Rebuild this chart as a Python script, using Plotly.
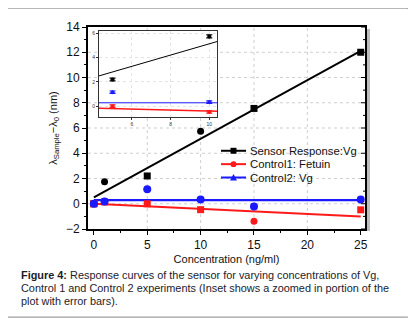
import plotly.graph_objects as go

# ---- data ----
conc = [0, 1, 5, 10, 15, 25]
sensor_vg = [0.0, 1.75, 2.2, 5.75, 7.55, 12.0]
control1_fetuin = [0.0, 0.15, 0.0, -0.47, -1.38, -0.48]
control2_vg = [0.0, 0.18, 1.15, 0.33, -0.22, 0.33]
sensor_err = [0.0, 0.1, 0.12, 0.12, 0.12, 0.12]
control1_err = [0.0, 0.08, 0.1, 0.1, 0.1, 0.1]
control2_err = [0.0, 0.08, 0.1, 0.1, 0.1, 0.1]

fit_x = [0, 25]
sensor_fit = [0.5, 12.1]
control1_fit = [0.0, -1.0]
control2_fit = [0.28, 0.28]

x_ticks = [0, 5, 10, 15, 20, 25]
y_ticks = [-2, 0, 2, 4, 6, 8, 10, 12, 14]
inset_x_ticks = [6, 8, 10]
inset_y_ticks = [0, 2, 4, 6]

series_names = ["Sensor Response:Vg", "Control1: Fetuin", "Control2: Vg"]
sensor_symbols = ["square", "circle", "square", "circle", "square", "square"]
control1_symbols = ["square", "square", "square", "square", "circle", "square"]

BLACK = "#000000"
RED = "#ff1a1a"
BLUE = "#1a1aff"

# page body has an 8px margin; the figure is sized/placed to compensate
OFF = 8
W, H = 416 - OFF, 327 - OFF
L, R, T, B = 88 - OFF, 51, 25 - OFF, 98
PW, PH = W - L - R, H - T - B


def px(xs):
    """screen x pixel -> paper coordinate"""
    return (xs - OFF - L) / PW


def py(ys):
    """screen y pixel -> paper coordinate"""
    return (H - B - (ys - OFF)) / PH


fig = go.Figure()

# main fits
fig.add_trace(go.Scatter(x=fit_x, y=sensor_fit, mode="lines",
                         line=dict(color=BLACK, width=2), showlegend=False))
fig.add_trace(go.Scatter(x=fit_x, y=control1_fit, mode="lines",
                         line=dict(color=RED, width=2), showlegend=False))
fig.add_trace(go.Scatter(x=fit_x, y=control2_fit, mode="lines",
                         line=dict(color=BLUE, width=2.2), showlegend=False))
# main data
fig.add_trace(go.Scatter(x=conc, y=sensor_vg, mode="markers",
                         marker=dict(color=BLACK, size=7, symbol=sensor_symbols),
                         showlegend=False))
fig.add_trace(go.Scatter(x=conc, y=control1_fetuin, mode="markers",
                         marker=dict(color=RED, size=7, symbol=control1_symbols),
                         showlegend=False))
fig.add_trace(go.Scatter(x=conc, y=control2_vg, mode="markers",
                         marker=dict(color=BLUE, size=8, symbol="circle"),
                         showlegend=False))

# inset
fig.add_trace(go.Scatter(x=fit_x, y=sensor_fit, mode="lines", xaxis="x2", yaxis="y2",
                         line=dict(color=BLACK, width=1), showlegend=False))
fig.add_trace(go.Scatter(x=fit_x, y=control1_fit, mode="lines", xaxis="x2", yaxis="y2",
                         line=dict(color=RED, width=1.5), showlegend=False))
fig.add_trace(go.Scatter(x=fit_x, y=control2_fit, mode="lines", xaxis="x2", yaxis="y2",
                         line=dict(color=BLUE, width=1), showlegend=False))
for vals, err, col in [(sensor_vg, sensor_err, BLACK), (control1_fetuin, control1_err, RED),
                       (control2_vg, control2_err, BLUE)]:
    fig.add_trace(go.Scatter(x=conc, y=vals, mode="markers", xaxis="x2", yaxis="y2",
                             marker=dict(color=col, size=4, symbol="circle"),
                             error_y=dict(type="data", array=err, color=col, thickness=1.2, width=3),
                             showlegend=False))

axis_common = dict(showline=True, linecolor=BLACK, ticks="outside", tickcolor=BLACK,
                   showgrid=False, zeroline=False,
                   tickfont=dict(size=12, color="#111", family="Liberation Sans"))

fig.update_layout(
    width=W, height=H,
    margin=dict(l=L, r=R, t=T, b=B),
    paper_bgcolor="white", plot_bgcolor="white",
    font=dict(family="Liberation Sans, Arial, sans-serif", color="#111"),
    showlegend=False,
    xaxis=dict(range=[-0.55, 25.4], tickvals=x_ticks, linewidth=1.5, ticklen=4,
               minor=dict(ticks="outside", ticklen=2, dtick=2.5, tickcolor=BLACK),
               title=dict(text="Concentration (ng/ml)", font=dict(size=11), standoff=4),
               mirror=True, **axis_common),
    yaxis=dict(range=[-2, 14], tickvals=y_ticks, linewidth=2, ticklen=4,
               minor=dict(ticks="outside", ticklen=2, dtick=1, tickcolor=BLACK),
               title=dict(text="λ<sub>Sample</sub>−λ<sub>0</sub> (nm)", font=dict(size=11), standoff=6),
               mirror=True, **axis_common),
    xaxis2=dict(domain=[px(99), px(217)], anchor="y2", range=[4.3, 10.4], tickvals=inset_x_ticks,
                showline=True, linecolor="#333", linewidth=1, mirror=True, ticks="outside",
                ticklen=2, tickcolor="#333", tickfont=dict(size=5, color="#333"),
                showgrid=True, gridcolor="#e4e4e4", griddash="dot", zeroline=False),
    yaxis2=dict(domain=[py(116), py(29)], anchor="x2", range=[-0.9, 6.2], tickvals=inset_y_ticks,
                showline=True, linecolor="#333", linewidth=1, mirror=True, ticks="outside",
                ticklen=2, tickcolor="#333", tickfont=dict(size=5, color="#333"),
                showgrid=True, gridcolor="#e4e4e4", griddash="dot", zeroline=False),
)

# main dotted gridlines as shapes (drawn first, so the inset background covers them)
for xv in x_ticks[1:-1]:
    fig.add_shape(type="line", xref="x", yref="paper", x0=xv, x1=xv, y0=0, y1=1,
                  line=dict(color="#cfcfcf", width=1, dash="dot"), layer="below")
for yv in y_ticks[1:-1]:
    fig.add_shape(type="line", xref="paper", yref="y", x0=0, x1=1, y0=yv, y1=yv,
                  line=dict(color="#cfcfcf", width=1, dash="dot"), layer="below")

# inset white background
fig.add_shape(type="rect", xref="paper", yref="paper", x0=px(99), x1=px(217), y0=py(116), y1=py(29),
              fillcolor="white", line=dict(width=0), layer="below")

# inward right-hand ticks
for yv in y_ticks:
    fig.add_shape(type="line", xref="paper", yref="y", x0=1, x1=1 - 4 / PW, y0=yv, y1=yv,
                  line=dict(color=BLACK, width=1))
for yv in range(y_ticks[0], y_ticks[-1]):
    if yv % 2:
        fig.add_shape(type="line", xref="paper", yref="y", x0=1, x1=1 - 2 / PW, y0=yv, y1=yv,
                      line=dict(color=BLACK, width=1))

# right-hand shadow of plot frame
fig.add_shape(type="rect", xref="paper", yref="paper", x0=px(366), x1=px(370), y0=py(231), y1=py(27),
              fillcolor="#bdbdbd", line=dict(width=0), layer="below")

# legend drawn by hand (compact row spacing like the original)
legend_rows = [150, 163.5, 177]
legend_cols = [BLACK, RED, BLUE]
for name, col, yp in zip(series_names, legend_cols, legend_rows):
    fig.add_shape(type="line", xref="paper", yref="paper", x0=px(221), x1=px(246), y0=py(yp), y1=py(yp),
                  line=dict(color=col, width=2))
    fig.add_annotation(text=name, xref="paper", yref="paper", x=px(248), y=py(yp),
                       xanchor="left", yanchor="middle", showarrow=False,
                       font=dict(size=11.3, color="#111"))
# legend markers
fig.add_shape(type="rect", xref="paper", yref="paper", x0=px(230.5), x1=px(236.5),
              y0=py(legend_rows[0] + 3), y1=py(legend_rows[0] - 3), fillcolor=BLACK, line=dict(width=0))
fig.add_shape(type="circle", xref="paper", yref="paper", x0=px(230.5), x1=px(236.5),
              y0=py(legend_rows[1] + 3), y1=py(legend_rows[1] - 3), fillcolor=RED, line=dict(width=0))
cx, cy = 233.5, legend_rows[2]
fig.add_shape(type="path", xref="paper", yref="paper",
              path=f"M {px(cx-3.5)},{py(cy+3)} L {px(cx+3.5)},{py(cy+3)} L {px(cx)},{py(cy-3.5)} Z",
              fillcolor=BLUE, line=dict(width=0))

# rounded outer frame
x0, x1, y0, y1 = px(3), px(412), py(318), py(6)
rx, ry = 6 / PW, 6 / PH
path = (f"M {x0+rx},{y1} L {x1-rx},{y1} Q {x1},{y1} {x1},{y1-ry} "
        f"L {x1},{y0+ry} Q {x1},{y0} {x1-rx},{y0} L {x0+rx},{y0} "
        f"Q {x0},{y0} {x0},{y0+ry} L {x0},{y1-ry} Q {x0},{y1} {x0+rx},{y1} Z")
fig.add_shape(type="path", xref="paper", yref="paper", path=path,
              line=dict(color="#a0a0a0", width=1.2), fillcolor="rgba(0,0,0,0)", layer="above")

caption_lines = [
    "<b>Figure 4:</b> Response curves of the sensor for varying concentrations of Vg,",
    "Control 1 and Control 2 experiments (Inset shows a zoomed in portion of the",
    "plot with error bars).",
]
caption_y = [275, 289, 302]
for line, yp in zip(caption_lines, caption_y):
    fig.add_annotation(text=line, xref="paper", yref="paper", x=px(19), y=py(yp),
                       xanchor="left", yanchor="middle", showarrow=False,
                       font=dict(size=10.9, color="#1c1c2a", family="Liberation Sans, Arial"))

fig.write_html("out.html")
